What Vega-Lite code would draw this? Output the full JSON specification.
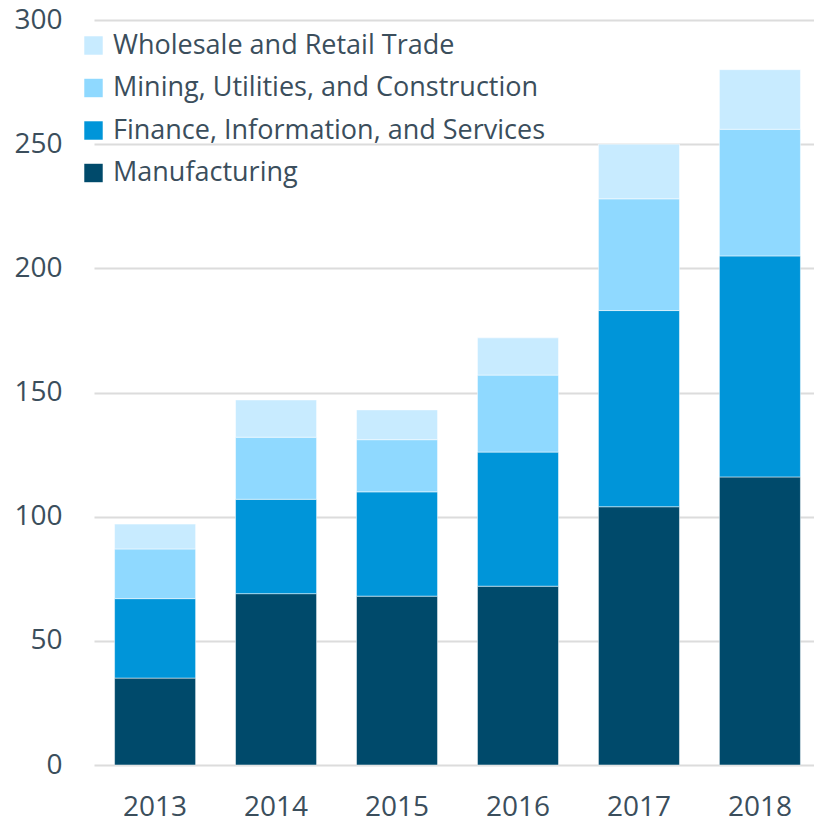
{
  "$schema": "https://vega.github.io/schema/vega-lite/v6.json",
  "width": 727,
  "height": 745,
  "autosize": {"type": "none"},
  "padding": {"left": 94, "top": 20, "right": 0, "bottom": 58},
  "background": "white",
  "config": {
    "view": {"stroke": null},
    "font": "Open Sans",
    "text": {"color": "#3b4e5c"}
  },
  "data": {
    "values": [
      {"year": "2013", "sector": "Manufacturing", "value": 35},
      {"year": "2013", "sector": "Finance, Information, and Services", "value": 32},
      {"year": "2013", "sector": "Mining, Utilities, and Construction", "value": 20},
      {"year": "2013", "sector": "Wholesale and Retail Trade", "value": 10},
      {"year": "2014", "sector": "Manufacturing", "value": 69},
      {"year": "2014", "sector": "Finance, Information, and Services", "value": 38},
      {"year": "2014", "sector": "Mining, Utilities, and Construction", "value": 25},
      {"year": "2014", "sector": "Wholesale and Retail Trade", "value": 15},
      {"year": "2015", "sector": "Manufacturing", "value": 68},
      {"year": "2015", "sector": "Finance, Information, and Services", "value": 42},
      {"year": "2015", "sector": "Mining, Utilities, and Construction", "value": 21},
      {"year": "2015", "sector": "Wholesale and Retail Trade", "value": 12},
      {"year": "2016", "sector": "Manufacturing", "value": 72},
      {"year": "2016", "sector": "Finance, Information, and Services", "value": 54},
      {"year": "2016", "sector": "Mining, Utilities, and Construction", "value": 31},
      {"year": "2016", "sector": "Wholesale and Retail Trade", "value": 15},
      {"year": "2017", "sector": "Manufacturing", "value": 104},
      {"year": "2017", "sector": "Finance, Information, and Services", "value": 79},
      {"year": "2017", "sector": "Mining, Utilities, and Construction", "value": 45},
      {"year": "2017", "sector": "Wholesale and Retail Trade", "value": 22},
      {"year": "2018", "sector": "Manufacturing", "value": 116},
      {"year": "2018", "sector": "Finance, Information, and Services", "value": 89},
      {"year": "2018", "sector": "Mining, Utilities, and Construction", "value": 51},
      {"year": "2018", "sector": "Wholesale and Retail Trade", "value": 24}
    ]
  },
  "transform": [
    {"calculate": "indexof(['Manufacturing', 'Finance, Information, and Services', 'Mining, Utilities, and Construction', 'Wholesale and Retail Trade'], datum.sector)", "as": "stackRank"}
  ],
  "mark": {"type": "bar", "stroke": "white", "strokeWidth": 0.5},
  "encoding": {
    "x": {
      "field": "year",
      "type": "nominal",
      "title": null,
      "scale": {"paddingInner": 0.33, "paddingOuter": 0.17},
      "axis": {
        "domain": false,
        "ticks": false,
        "labelAngle": 0,
        "labelFontSize": 28,
        "labelColor": "#3b4e5c",
        "labelPadding": 28
      }
    },
    "y": {
      "field": "value",
      "type": "quantitative",
      "stack": "zero",
      "title": null,
      "scale": {"domain": [0, 300], "nice": false},
      "axis": {
        "values": [0, 50, 100, 150, 200, 250, 300],
        "domain": false,
        "ticks": false,
        "labelFontSize": 28,
        "labelColor": "#3b4e5c",
        "labelPadding": 32,
        "gridColor": "#dcdcdc",
        "gridWidth": 2
      }
    },
    "color": {
      "field": "sector",
      "type": "nominal",
      "title": null,
      "scale": {
        "domain": ["Manufacturing", "Finance, Information, and Services", "Mining, Utilities, and Construction", "Wholesale and Retail Trade"],
        "range": ["#004a6b", "#0095d9", "#8fd9ff", "#c8ebff"]
      },
      "legend": {
        "orient": "none",
        "legendX": -14,
        "legendY": 12,
        "values": ["Wholesale and Retail Trade", "Mining, Utilities, and Construction", "Finance, Information, and Services", "Manufacturing"],
        "symbolType": "square",
        "symbolSize": 340,
        "symbolStrokeWidth": 0,
        "labelFontSize": 27,
        "labelColor": "#3b4e5c",
        "labelOffset": 6,
        "labelLimit": 600,
        "rowPadding": 14.5,
        "padding": 0,
        "fillColor": null
      }
    },
    "order": {"field": "stackRank", "type": "quantitative", "sort": "ascending"}
  }
}
